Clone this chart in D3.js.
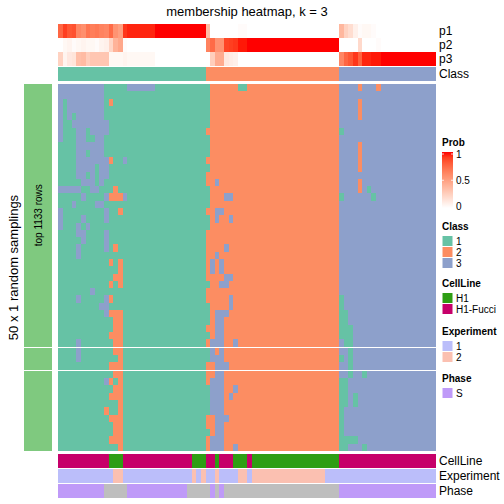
<!DOCTYPE html>
<html><head><meta charset="utf-8">
<script src="https://cdn.jsdelivr.net/npm/d3@7"></script>
<style>
html,body{margin:0;padding:0;background:#fff;}
svg{display:block;font-family:"Liberation Sans",Arial,Helvetica,sans-serif;}
</style>
</head><body>
<svg id="chart" width="504" height="504"></svg>
<script>
// ---------------- data ----------------
const chartTitle = "membership heatmap, k = 3";
const rowTitle = "50 x 1 random samplings";
const sliceLabel = "top 1133 rows";
const classLevels = ["1", "2", "3"];
const classColors = ["#66C2A5", "#FC8D62", "#8DA0CB"];

// consensus class of each of the 82 columns
const columnClass = "1111111111 1111111111 1111111111 1122222222 2222222222 2222222222 2333333333 3333333333 33".replace(/ /g, "").split("");

// membership probabilities per column
const p1 = [.76,.9,.82,.84,.62,.58,.7,.66,.68,.64,
  .62,.74,.56,.5,.92,.96,.96,.96,.96,.96,
  .96,1,1,1,1,1,1,1,1,1,
  1,1,.36,0,0,0,0,0,0,.02,
  .02,0,0,0,0,0,0,0,0,0,
  0,0,0,0,0,0,0,0,0,0,
  0,.38,.24,.18,.08,.02,.04,.04,.02,0,
  0,0,0,0,0,0,0,0,0,0,0,0];
const p2 = [0,.04,.06,.02,.04,.06,.04,.04,.02,.06,
  .08,.22,.4,.46,.02,0,0,0,0,0,
  0,0,0,0,0,0,0,0,0,0,
  0,0,.64,.74,.56,.56,.88,.9,.92,.98,
  .98,1,1,1,1,1,1,1,1,1,
  1,1,1,1,1,1,1,1,1,1,
  1,0,0,0,0,.2,0,0,0,.02,
  0,0,0,0,0,0,0,0,0,0,0,0];
const p3 = [.24,.06,.12,.14,.34,.36,.26,.3,.3,.3,
  .3,.04,.04,.04,.06,.04,.04,.04,.04,.04,
  .04,0,0,0,0,0,0,0,0,0,
  0,0,0,.26,.44,.44,.12,.1,.08,0,
  0,0,0,0,0,0,0,0,0,0,
  0,0,0,0,0,0,0,0,0,0,
  0,.62,.76,.82,.92,.78,.96,.96,.98,.98,
  1,1,1,1,1,1,1,1,1,1,1,1];

// class assigned in each of the 50 samplings (rows) for each column
const samplings = [
"3333333333 1111133333 3111111111 1112222221 1222222222 2222222222 2333323332 3333333333 33",
"3333333333 1111111111 1111111111 1112222222 2222222222 2222222222 2333333333 3333333333 33",
"3133333333 1211111111 1111111111 1112222222 2222222222 2222222222 2333323333 3333333333 33",
"3133333333 1111111111 1111111111 1112222222 2222222222 2222222222 2333323333 3333333333 33",
"3131333333 1111111111 1111111111 1112222222 2222222222 2222222222 2333323333 3333333333 33",
"3113333333 3111111111 1111111111 1112222222 2222222222 2222222222 2333333333 3333333333 33",
"3111331333 3111111111 1111111111 1122222222 2222222222 2222222222 2133333333 3333333333 33",
"3111331133 1111111111 1111111111 1112222222 2222222222 2222222222 2333333333 3333333333 33",
"1111333333 1111111111 1111111111 1112222222 2222222222 2222222222 2333323333 3333333333 33",
"1111331333 1111111111 1111111111 1112222222 2222222222 2222222222 2333323333 3333333333 33",
"1111333333 3211311111 1111111111 1122222222 2222222222 2222222222 2333323333 3333333333 33",
"1111333313 3111111111 1111111111 1112222222 2222222222 2222222222 2333323333 3333333333 33",
"1111331313 3111111111 1111111111 1122222222 2222222222 2222222222 2333333333 3333333333 33",
"1111133313 1111111111 1111111111 1122322222 2222222222 2222222222 2333323333 3333333333 33",
"3333311331 1121111111 1111111111 1112222222 2222222222 2222222222 2333323133 3333333333 33",
"1111131111 3222311111 1111111111 1112223322 2222222222 2222222222 2133333313 3333333333 33",
"1113111133 1111111111 1111111111 1112222222 2222222222 2222222222 2333333333 3333333333 33",
"3111111111 3112111111 1111111111 1122332222 2222222222 2222222222 2333333333 3333333333 33",
"3111131111 3111111111 1111111111 1112322322 2222222222 2222222222 2333333333 3333333333 33",
"3111313111 1111111111 1111111111 1112222222 2222222222 2222222222 2333333333 3333333333 33",
"1111331111 3111111111 1111111111 1122222222 2222222222 2222222222 2333333333 3333333333 33",
"1111131111 3111111111 1111111111 1122222222 2222222222 2222222222 2333333333 3333333333 33",
"1111311111 3121111111 1111111111 1122223222 2222222222 2222222222 2333333333 3333333333 33",
"1111311111 1111111111 1111111111 1122322222 2222222222 2222222222 2333333333 3333333333 33",
"1111111111 1212111111 1111111111 1123232222 2222222222 2222222222 2333333333 3333333333 33",
"1111111111 1112111111 1111111111 1123232222 2222222222 2222222222 2333333333 3333333333 33",
"1111111111 1122111111 1111111111 1122223322 2222222222 2222222222 2333333333 3333333333 33",
"1111111111 1212111111 1111111111 1112233222 2222222222 2222222222 2333333333 3333333333 33",
"1111111311 1111111111 1111111111 1122222222 2222222222 2222222222 2333333333 3333333333 33",
"1111311111 3211111111 1111111111 1122222322 2222222222 2222222222 2133333333 3333333333 33",
"1111111113 3111111111 1111111111 1112222322 2222222222 2222222222 2133333333 3333333333 33",
"1111111111 3222111111 1111111111 1112333222 2222222222 2222222222 2113333333 3333333333 33",
"1111111111 1122111111 1111111111 1112332222 2222222222 2222222222 2113333333 3333333333 33",
"1111111111 1122111111 1111111111 1122332222 2222222222 2222222222 2111333333 3333333333 33",
"1111111111 1222111111 1111111111 1112332222 2222222222 2222222222 2111333333 3333333333 33",
"1111311111 1122111111 1111111111 1123332232 2222222222 2222222222 2311333333 3333333333 33",
"1111311111 1122111111 1111111111 1113232222 2222222222 2222222222 2331333333 3333333333 33",
"1111311111 1112111111 1111111111 1113332222 2222222222 2222222222 2131333333 3333333333 33",
"1111111111 1222111111 1111111111 1122333222 2222222222 2222222222 2331333333 3333333333 33",
"1111111111 1122111111 1111111111 1122332222 2222222222 2222222222 2331331333 3333333333 33",
"1111111111 3212111111 1111111111 1123332222 2222222222 2222222222 2113333333 3333333333 33",
"1111111111 1122111111 1111111111 1113332232 2222222222 2222222222 2113333333 3333333333 33",
"1111111111 1222111111 1111111111 1113332322 2222222222 2222222222 2113133333 3333333333 33",
"1111111111 1112111111 1111111111 1113332222 2222222222 2222222222 2113133333 3333333333 33",
"1111111111 2112111111 1111111111 1113332222 2222222222 2222222222 2133333333 3333333333 33",
"1111111111 1222111111 1111111111 1122333222 2222222222 2222222222 2133333333 3333333333 33",
"1111111111 1122111111 1111111111 1122332222 2222222222 2222222222 2133333333 3333333333 33",
"1111111111 1122111111 1111111111 1112332222 2222222222 2222222222 2133333333 3333333333 33",
"1111111111 1222111111 1111111111 1123332222 2222222222 2222222222 2111133333 3333333333 33",
"1111111111 1112111111 1111111111 1123332232 2222222222 2222222222 2113331333 3333333333 33"
].map(s => s.replace(/ /g, "").split(""));
const sliceSizes = [36, 3, 11];

// column annotations
const cellLineLevels = ["H1", "H1-Fucci"];
const cellLineColors = ["#2E9E14", "#C6006A"];
const cellLineCodes = "FFFFFFFFFF FHHHFFFFFF FFFFFFFFFH HHFFHFFFHH HFHHHHHHHH HHHHHHHHHH HFFFFFFFFF FFFFFFFFFF FF".replace(/ /g, "").split("");
const cellLine = cellLineCodes.map(c => c === "H" ? "H1" : "H1-Fucci");

const experimentLevels = ["1", "2"];
const experimentColors = ["#BBBEFA", "#FBC0B1"];
const experiment = "1111111111 1122111111 1111111112 1211211112 2122222222 2222222211 1111111111 1111111111 11".replace(/ /g, "").split("");

const phaseLevels = ["S"];
const phaseColors = ["#BF9AF8"];
const naColor = "#BEBEBE";
const phaseCodes = "SSSSSSSSSS NNNNNSSSSS SSSSSSSSNN NNNSNSNNNN NNNNNNNNNN NNNNNNNNNN NSSSSSSSSS SSSSSSSSSS SS".replace(/ /g, "").split("");
const phase = phaseCodes.map(c => c === "S" ? "S" : null);

const probTicks = [0, 0.5, 1];

// ---------------- drawing ----------------
const svg = d3.select("#chart");
const nCol = columnClass.length;
const hmLeft = 58, hmRight = 436;
const x = d3.scaleBand().domain(d3.range(nCol)).range([hmLeft, hmRight]);
const classColor = d3.scaleOrdinal().domain(classLevels).range(classColors);
const probColor = d3.scaleLinear().domain([0, 1]).range(["#FFFFFF", "#FF0000"]).interpolate(d3.interpolateLab);
const cellColor = d3.scaleOrdinal().domain(cellLineLevels).range(cellLineColors);
const expColor = d3.scaleOrdinal().domain(experimentLevels).range(experimentColors);
const phaseColor = d3.scaleOrdinal().domain(phaseLevels).range(phaseColors);

const labelFont = 12;
const labelX = 439;

// title
svg.append("text").attr("x", (hmLeft + hmRight) / 2).attr("y", 16)
  .attr("text-anchor", "middle").attr("font-size", 13).attr("fill", "#000").text(chartTitle);

// helper for a 1-row annotation track
function track(values, colorFn, y0, h, label) {
  const g = svg.append("g").attr("shape-rendering", "crispEdges");
  g.selectAll("rect").data(values).join("rect")
    .attr("x", (d, i) => x(i)).attr("width", x.bandwidth() + 0.3)
    .attr("y", y0).attr("height", h)
    .attr("fill", d => colorFn(d));
  if (label) {
    svg.append("text").attr("x", labelX).attr("y", y0 + h / 2).attr("dy", "0.36em")
      .attr("font-size", labelFont).attr("fill", "#000").text(label);
  }
}

// top annotations
track(p1, probColor, 24, 14, "p1");
track(p2, probColor, 38, 14, "p2");
track(p3, probColor, 52, 14, "p3");
track(columnClass, classColor, 67, 14, "Class");

// main heatmap with row slices
const hmTop = 84, hmBottom = 451, sliceGap = 1.2;
const nRow = samplings.length;
const rowH = (hmBottom - hmTop - sliceGap * (sliceSizes.length - 1)) / nRow;
let start = 0, yStart = hmTop;
const sliceExtents = [];
sliceSizes.forEach(size => {
  const rows = d3.range(start, start + size);
  const yEnd = yStart + size * rowH;
  const y = d3.scaleBand().domain(rows).range([yStart, yEnd]);
  sliceExtents.push([yStart, yEnd]);
  const g = svg.append("g").attr("shape-rendering", "crispEdges");
  rows.forEach(r => {
    g.selectAll(null).data(samplings[r]).join("rect")
      .attr("x", (d, i) => x(i)).attr("width", x.bandwidth() + 0.3)
      .attr("y", y(r)).attr("height", y.bandwidth() + 0.3)
      .attr("fill", d => classColor(d));
  });
  start += size;
  yStart = yEnd + sliceGap;
});

// left slice bar
sliceExtents.forEach((e, i) => {
  svg.append("rect").attr("x", 24).attr("width", 28).attr("y", e[0]).attr("height", e[1] - e[0])
    .attr("fill", "#7FC97F").attr("shape-rendering", "crispEdges");
});
const s0 = sliceExtents[0];
svg.append("text").attr("transform", `translate(38,${(s0[0] + s0[1]) / 2}) rotate(-90)`)
  .attr("text-anchor", "middle").attr("dy", "0.35em").attr("font-size", 10).attr("fill", "#000").text(sliceLabel);
svg.append("text").attr("transform", `translate(13,${(hmTop + hmBottom) / 2}) rotate(-90)`)
  .attr("text-anchor", "middle").attr("dy", "0.35em").attr("font-size", 13).attr("fill", "#000").text(rowTitle);

// bottom annotations
track(cellLine, cellColor, 454, 14, "CellLine");
track(experiment, expColor, 469, 14, "Experiment");
track(phase, d => d === null ? naColor : phaseColor(d), 484, 14, "Phase");

// ---------------- legends ----------------
const lgX = 442, lgW = 11, lgLabelX = 456;
function legendTitle(txt, yc) {
  svg.append("text").attr("x", lgX).attr("y", yc).attr("dy", "0.36em")
    .attr("font-size", 10).attr("font-weight", "bold").attr("fill", "#000").text(txt);
}
// Prob
legendTitle("Prob", 142);
const barTop = 152, barBottom = 208;
const defs = svg.append("defs");
const grad = defs.append("linearGradient").attr("id", "probGrad").attr("x1", 0).attr("y1", 1).attr("x2", 0).attr("y2", 0);
d3.range(0, 1.0001, 0.1).forEach(t => grad.append("stop").attr("offset", t).attr("stop-color", probColor(t)));
svg.append("rect").attr("x", lgX).attr("y", barTop).attr("width", lgW).attr("height", barBottom - barTop).attr("fill", "url(#probGrad)");
const probY = d3.scaleLinear().domain([0, 1]).range([barBottom - 1.5, barTop + 2]);
probTicks.forEach(t => {
  const yy = probY(t);
  if (t > 0) {
    svg.append("line").attr("x1", lgX).attr("x2", lgX + 2).attr("y1", yy).attr("y2", yy).attr("stroke", "#fff").attr("stroke-width", 0.8);
    svg.append("line").attr("x1", lgX + lgW - 2).attr("x2", lgX + lgW).attr("y1", yy).attr("y2", yy).attr("stroke", "#fff").attr("stroke-width", 0.8);
  }
  svg.append("text").attr("x", lgLabelX).attr("y", yy).attr("dy", "0.36em")
    .attr("font-size", 10).attr("fill", "#000").text(t === 0 ? "0" : t === 1 ? "1" : String(t));
});

function discreteLegend(titleTxt, titleY, levels, colorFn) {
  legendTitle(titleTxt, titleY);
  const top0 = titleY + 9.5;
  levels.forEach((lv, i) => {
    const y0 = top0 + i * 11;
    svg.append("rect").attr("x", lgX).attr("y", y0).attr("width", lgW).attr("height", 11)
      .attr("fill", colorFn(lv)).attr("stroke", "#fff").attr("stroke-width", 1);
    svg.append("text").attr("x", lgLabelX).attr("y", y0 + 5.5).attr("dy", "0.36em")
      .attr("font-size", 10).attr("fill", "#000").text(lv);
  });
}
discreteLegend("Class", 226, classLevels, d => classColor(d));
discreteLegend("CellLine", 283, cellLineLevels, d => cellColor(d));
discreteLegend("Experiment", 331, experimentLevels, d => expColor(d));
discreteLegend("Phase", 378, phaseLevels, d => phaseColor(d));
</script>
</body></html>
